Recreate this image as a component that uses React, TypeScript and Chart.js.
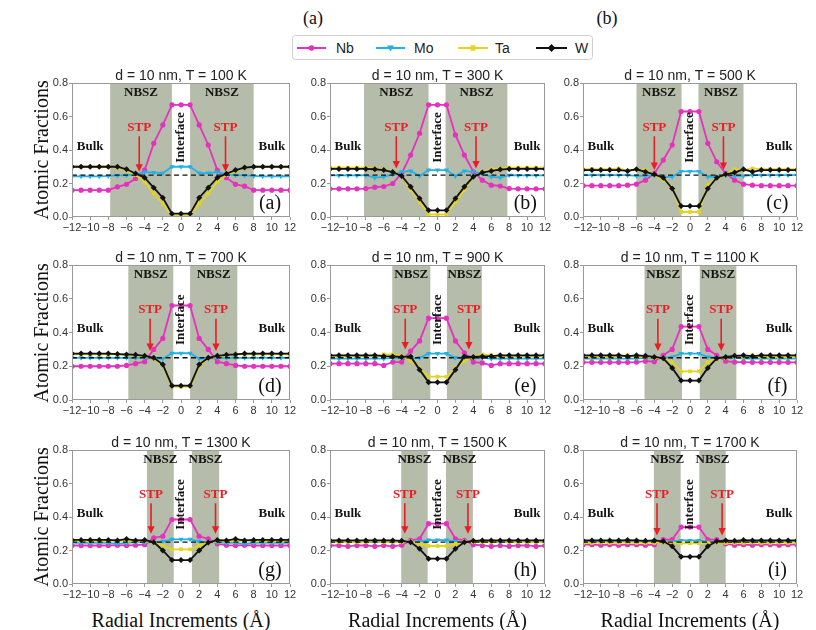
import React, { useEffect, useRef } from 'react';
import { Chart, registerables } from 'chart.js';

Chart.register(...registerables);

// ---------------- data ----------------
const radialX = [-12, -11, -10, -9, -8, -7, -6, -5, -4, -3, -2, -1, 0, 1, 2, 3, 4, 5, 6, 7, 8, 9, 10, 11, 12];
const xTickValues = [-12, -10, -8, -6, -4, -2, 0, 2, 4, 6, 8, 10, 12];
const yTickValues = [0, 0.2, 0.4, 0.6, 0.8];
const temperatures = [100, 300, 500, 700, 900, 1100, 1300, 1500, 1700];
const panelLetters = ['a', 'b', 'c', 'd', 'e', 'f', 'g', 'h', 'i'];
const seriesNames = ['Nb', 'Mo', 'Ta', 'W'];

const nbProfiles = [
  [0.16, 0.16, 0.16, 0.16, 0.16, 0.18, 0.195, 0.23, 0.28, 0.44, 0.55, 0.67, 0.67, 0.67, 0.55, 0.43, 0.28, 0.235, 0.195, 0.184, 0.16, 0.16, 0.16, 0.16, 0.16],
  [0.168, 0.168, 0.168, 0.168, 0.17, 0.178, 0.182, 0.2, 0.26, 0.37, 0.5, 0.67, 0.67, 0.67, 0.49, 0.37, 0.27, 0.22, 0.19, 0.185, 0.17, 0.168, 0.168, 0.168, 0.168],
  [0.187, 0.187, 0.187, 0.187, 0.187, 0.19, 0.196, 0.22, 0.26, 0.34, 0.43, 0.63, 0.63, 0.63, 0.44, 0.33, 0.26, 0.22, 0.196, 0.19, 0.187, 0.187, 0.187, 0.187, 0.187],
  [0.2, 0.2, 0.2, 0.2, 0.2, 0.2, 0.205, 0.215, 0.227, 0.3, 0.365, 0.56, 0.56, 0.56, 0.365, 0.3, 0.227, 0.215, 0.205, 0.2, 0.2, 0.2, 0.2, 0.2, 0.2],
  [0.215, 0.215, 0.215, 0.215, 0.215, 0.215, 0.205, 0.225, 0.225, 0.29, 0.35, 0.485, 0.485, 0.485, 0.35, 0.28, 0.225, 0.22, 0.205, 0.215, 0.215, 0.215, 0.215, 0.215, 0.215],
  [0.223, 0.223, 0.223, 0.223, 0.223, 0.223, 0.225, 0.23, 0.227, 0.265, 0.3, 0.435, 0.435, 0.435, 0.3, 0.265, 0.23, 0.225, 0.225, 0.223, 0.223, 0.223, 0.223, 0.223, 0.223],
  [0.23, 0.23, 0.23, 0.23, 0.23, 0.232, 0.23, 0.232, 0.235, 0.275, 0.285, 0.385, 0.385, 0.385, 0.285, 0.27, 0.24, 0.232, 0.23, 0.232, 0.23, 0.23, 0.23, 0.23, 0.23],
  [0.23, 0.23, 0.225, 0.23, 0.23, 0.225, 0.23, 0.225, 0.232, 0.26, 0.27, 0.36, 0.36, 0.36, 0.27, 0.26, 0.235, 0.23, 0.225, 0.23, 0.225, 0.23, 0.23, 0.225, 0.23],
  [0.235, 0.235, 0.232, 0.235, 0.232, 0.235, 0.235, 0.232, 0.235, 0.265, 0.265, 0.34, 0.34, 0.34, 0.265, 0.265, 0.24, 0.232, 0.235, 0.232, 0.235, 0.235, 0.232, 0.235, 0.235],
];

const moProfiles = [
  [0.243, 0.243, 0.243, 0.243, 0.245, 0.248, 0.25, 0.255, 0.268, 0.265, 0.262, 0.3, 0.3, 0.3, 0.262, 0.262, 0.268, 0.255, 0.25, 0.248, 0.245, 0.243, 0.243, 0.243, 0.243],
  [0.248, 0.248, 0.248, 0.248, 0.25, 0.235, 0.24, 0.255, 0.27, 0.275, 0.245, 0.28, 0.28, 0.28, 0.245, 0.275, 0.27, 0.26, 0.24, 0.235, 0.25, 0.248, 0.248, 0.248, 0.248],
  [0.25, 0.25, 0.25, 0.25, 0.25, 0.25, 0.245, 0.245, 0.25, 0.24, 0.24, 0.272, 0.272, 0.272, 0.24, 0.24, 0.25, 0.245, 0.245, 0.25, 0.25, 0.25, 0.25, 0.25, 0.25],
  [0.25, 0.25, 0.25, 0.25, 0.25, 0.25, 0.25, 0.25, 0.25, 0.245, 0.245, 0.277, 0.277, 0.277, 0.245, 0.245, 0.25, 0.25, 0.25, 0.25, 0.25, 0.25, 0.25, 0.25, 0.25],
  [0.245, 0.245, 0.245, 0.245, 0.245, 0.245, 0.245, 0.25, 0.25, 0.245, 0.25, 0.275, 0.275, 0.275, 0.25, 0.245, 0.25, 0.25, 0.245, 0.245, 0.245, 0.245, 0.245, 0.245, 0.245],
  [0.245, 0.245, 0.245, 0.245, 0.245, 0.245, 0.245, 0.25, 0.248, 0.25, 0.255, 0.275, 0.275, 0.275, 0.255, 0.25, 0.248, 0.25, 0.245, 0.245, 0.245, 0.245, 0.245, 0.245, 0.245],
  [0.245, 0.245, 0.245, 0.245, 0.245, 0.24, 0.245, 0.248, 0.248, 0.25, 0.255, 0.267, 0.267, 0.267, 0.255, 0.25, 0.248, 0.245, 0.245, 0.24, 0.245, 0.245, 0.245, 0.245, 0.245],
  [0.25, 0.25, 0.25, 0.25, 0.25, 0.25, 0.25, 0.25, 0.25, 0.25, 0.255, 0.262, 0.262, 0.262, 0.255, 0.25, 0.25, 0.25, 0.25, 0.25, 0.25, 0.25, 0.25, 0.25, 0.25],
  [0.25, 0.25, 0.25, 0.25, 0.25, 0.25, 0.25, 0.25, 0.25, 0.25, 0.252, 0.26, 0.26, 0.26, 0.252, 0.25, 0.25, 0.25, 0.25, 0.25, 0.25, 0.25, 0.25, 0.25, 0.25],
];

const taProfiles = [
  [0.3, 0.3, 0.3, 0.3, 0.3, 0.295, 0.275, 0.25, 0.21, 0.14, 0.08, 0.01, 0.01, 0.01, 0.08, 0.14, 0.21, 0.25, 0.275, 0.295, 0.3, 0.3, 0.3, 0.3, 0.3],
  [0.295, 0.295, 0.295, 0.295, 0.295, 0.29, 0.285, 0.27, 0.245, 0.16, 0.09, 0.015, 0.015, 0.015, 0.09, 0.16, 0.24, 0.27, 0.285, 0.29, 0.295, 0.295, 0.295, 0.295, 0.295],
  [0.285, 0.285, 0.285, 0.285, 0.29, 0.275, 0.285, 0.28, 0.255, 0.22, 0.18, 0.03, 0.03, 0.03, 0.19, 0.23, 0.255, 0.285, 0.28, 0.29, 0.285, 0.285, 0.285, 0.285, 0.285],
  [0.27, 0.27, 0.27, 0.27, 0.27, 0.27, 0.265, 0.265, 0.258, 0.245, 0.2, 0.08, 0.08, 0.08, 0.2, 0.245, 0.258, 0.265, 0.27, 0.27, 0.27, 0.27, 0.27, 0.27, 0.27],
  [0.26, 0.26, 0.26, 0.26, 0.26, 0.26, 0.27, 0.27, 0.262, 0.232, 0.19, 0.138, 0.138, 0.138, 0.19, 0.232, 0.255, 0.27, 0.265, 0.26, 0.26, 0.26, 0.26, 0.26, 0.26],
  [0.255, 0.255, 0.255, 0.255, 0.255, 0.265, 0.255, 0.255, 0.25, 0.245, 0.225, 0.17, 0.17, 0.17, 0.225, 0.245, 0.25, 0.255, 0.255, 0.265, 0.255, 0.255, 0.255, 0.255, 0.255],
  [0.255, 0.255, 0.255, 0.255, 0.255, 0.26, 0.255, 0.255, 0.255, 0.25, 0.23, 0.207, 0.207, 0.207, 0.23, 0.25, 0.255, 0.255, 0.255, 0.26, 0.255, 0.255, 0.255, 0.255, 0.255],
  [0.25, 0.25, 0.25, 0.25, 0.25, 0.255, 0.25, 0.25, 0.25, 0.255, 0.24, 0.227, 0.227, 0.227, 0.24, 0.255, 0.25, 0.25, 0.25, 0.255, 0.25, 0.25, 0.25, 0.25, 0.25],
  [0.245, 0.245, 0.248, 0.245, 0.245, 0.248, 0.245, 0.245, 0.245, 0.248, 0.245, 0.243, 0.243, 0.243, 0.245, 0.248, 0.245, 0.245, 0.245, 0.248, 0.245, 0.245, 0.248, 0.245, 0.245],
];

const wProfiles = [
  [0.3, 0.3, 0.3, 0.3, 0.3, 0.3, 0.285, 0.26, 0.235, 0.175, 0.115, 0.02, 0.02, 0.02, 0.115, 0.175, 0.235, 0.258, 0.28, 0.295, 0.3, 0.3, 0.3, 0.3, 0.3],
  [0.287, 0.287, 0.287, 0.287, 0.287, 0.285, 0.28, 0.268, 0.245, 0.18, 0.11, 0.04, 0.04, 0.04, 0.11, 0.18, 0.24, 0.265, 0.275, 0.283, 0.287, 0.287, 0.287, 0.287, 0.287],
  [0.28, 0.28, 0.28, 0.28, 0.28, 0.275, 0.285, 0.27, 0.255, 0.235, 0.17, 0.065, 0.065, 0.065, 0.17, 0.235, 0.255, 0.265, 0.285, 0.27, 0.28, 0.28, 0.28, 0.28, 0.28],
  [0.275, 0.275, 0.275, 0.275, 0.275, 0.272, 0.27, 0.268, 0.262, 0.25, 0.21, 0.085, 0.085, 0.085, 0.21, 0.25, 0.262, 0.268, 0.27, 0.275, 0.275, 0.275, 0.275, 0.275, 0.275],
  [0.265, 0.265, 0.265, 0.265, 0.265, 0.265, 0.26, 0.258, 0.255, 0.258, 0.18, 0.105, 0.105, 0.105, 0.18, 0.258, 0.255, 0.258, 0.26, 0.265, 0.265, 0.265, 0.265, 0.265, 0.265],
  [0.265, 0.265, 0.265, 0.265, 0.265, 0.26, 0.265, 0.262, 0.255, 0.247, 0.19, 0.115, 0.115, 0.115, 0.19, 0.247, 0.255, 0.262, 0.265, 0.26, 0.265, 0.265, 0.265, 0.265, 0.265],
  [0.263, 0.263, 0.263, 0.263, 0.263, 0.26, 0.268, 0.26, 0.262, 0.25, 0.2, 0.143, 0.143, 0.143, 0.2, 0.248, 0.262, 0.26, 0.268, 0.26, 0.263, 0.263, 0.263, 0.263, 0.263],
  [0.26, 0.26, 0.26, 0.26, 0.26, 0.26, 0.26, 0.26, 0.258, 0.25, 0.21, 0.151, 0.151, 0.151, 0.21, 0.25, 0.258, 0.26, 0.26, 0.26, 0.26, 0.26, 0.26, 0.26, 0.26],
  [0.26, 0.26, 0.26, 0.26, 0.26, 0.262, 0.26, 0.258, 0.26, 0.255, 0.225, 0.163, 0.163, 0.163, 0.225, 0.255, 0.26, 0.258, 0.262, 0.26, 0.26, 0.26, 0.26, 0.26, 0.26],
];

// shaded NBSZ zones and STP markers (radial positions)
const nbszLeft = [[-7.8, -1], [-8.2, -1], [-6, -0.95], [-5.8, -0.85], [-5.05, -0.8], [-5.1, -0.9], [-3.75, -0.8], [-4.05, -1.1], [-4.05, -1.05]];
const nbszRight = [[1, 8], [0.9, 7.8], [0.95, 6], [1, 6.2], [1.05, 4.95], [1.1, 5.2], [1.2, 4.2], [0.95, 3.95], [1.05, 4]];
const stpLeft = [-4.6, -4.6, -4, -3.4, -3.6, -3.6, -3.3, -3.65, -3.7];
const stpRight = [4.9, 4.3, 3.75, 3.85, 3.5, 3.5, 3.8, 3.4, 3.6];
const stpTip = [0.27, 0.29, 0.28, 0.29, 0.3, 0.29, 0.3, 0.3, 0.29];
const equalFraction = 0.25;

// ---------------- styling ----------------
const SERIF = '"Liberation Serif", "Times New Roman", serif';
const SANS = '"Liberation Sans", Arial, sans-serif';
const NB_COLOR = '#e431bf';
const MO_COLOR = '#22b0e6';
const TA_COLOR = '#e4d41c';
const W_COLOR = '#111111';
const SHADE = '#b6bcaa';
const FRAME = '#9a9a9a';
const RED = '#ec1c24';

const colLeft = [72, 330, 583];
const colRight = [290, 545, 797];
const rowTop = [83, 265, 450];
const rowBottom = [217, 400, 584];
const PT = 22, YW = 36, XH = 24, PR = 14;

function fmtX(v: any) {
  const n = Number(v);
  return n < 0 ? '\u2212' + Math.abs(n) : String(n);
}

function buildChart(canvas: HTMLCanvasElement, i: number) {
  const mk = (label: string, values: number[], color: string, style: string, order: number, rot: number, r: number) => ({
    label,
    data: radialX.map((x, k) => ({ x, y: values[k] })),
    borderColor: color,
    backgroundColor: color,
    pointBackgroundColor: color,
    pointBorderColor: color,
    pointBorderWidth: 0,
    pointStyle: style,
    pointRotation: rot,
    pointRadius: r,
    borderWidth: 1.8,
    tension: 0,
    order,
  });
  const datasets = [
    mk(seriesNames[0], nbProfiles[i], NB_COLOR, 'circle', 4, 0, 2.6),
    mk(seriesNames[1], moProfiles[i], MO_COLOR, 'triangle', 3, 180, 3),
    mk(seriesNames[2], taProfiles[i], TA_COLOR, 'rect', 2, 0, 2.6),
    mk(seriesNames[3], wProfiles[i], W_COLOR, 'rectRot', 1, 0, 3),
  ];

  const decor = {
    id: 'decor' + i,
    beforeDatasetsDraw(chart: any) {
      const { ctx, chartArea: a, scales } = chart;
      const x = scales.x;
      ctx.save();
      ctx.fillStyle = SHADE;
      for (const [x0, x1] of [nbszLeft[i], nbszRight[i]]) {
        const p0 = x.getPixelForValue(x0);
        const p1 = x.getPixelForValue(x1);
        ctx.fillRect(p0, a.top, p1 - p0, a.bottom - a.top);
      }
      ctx.restore();
    },
    afterDatasetsDraw(chart: any) {
      const { ctx, chartArea: a, scales } = chart;
      const x = scales.x, y = scales.y;
      ctx.save();
      // dashed equal-fraction line
      ctx.strokeStyle = '#111';
      ctx.lineWidth = 1.4;
      ctx.setLineDash([5, 3.5]);
      const yd = y.getPixelForValue(equalFraction);
      ctx.beginPath();
      ctx.moveTo(a.left, yd);
      ctx.lineTo(a.right, yd);
      ctx.stroke();
      ctx.setLineDash([]);

      ctx.textAlign = 'center';
      ctx.textBaseline = 'middle';
      // NBSZ labels
      ctx.fillStyle = '#151515';
      ctx.font = `bold 13px ${SERIF}`;
      for (const [x0, x1] of [nbszLeft[i], nbszRight[i]]) {
        ctx.fillText('NBSZ', x.getPixelForValue((x0 + x1) / 2), y.getPixelForValue(0.745));
      }
      // Bulk labels
      ctx.fillText('Bulk', x.getPixelForValue(-10), y.getPixelForValue(0.42));
      ctx.fillText('Bulk', x.getPixelForValue(10), y.getPixelForValue(0.42));
      // Interface (vertical)
      ctx.save();
      ctx.translate(x.getPixelForValue(0), y.getPixelForValue(0.475));
      ctx.rotate(-Math.PI / 2);
      ctx.fillText('Interface', 0, 0);
      ctx.restore();
      // STP with arrows
      for (const sx of [stpLeft[i], stpRight[i]]) {
        const px = x.getPixelForValue(sx);
        ctx.fillStyle = RED;
        ctx.font = `bold 13px ${SERIF}`;
        ctx.fillText('STP', px, y.getPixelForValue(0.535));
        const yTop = y.getPixelForValue(0.482);
        const yTip = y.getPixelForValue(stpTip[i]);
        ctx.strokeStyle = RED;
        ctx.lineWidth = 1.6;
        ctx.beginPath();
        ctx.moveTo(px, yTop);
        ctx.lineTo(px, yTip - 6);
        ctx.stroke();
        ctx.beginPath();
        ctx.moveTo(px - 3.6, yTip - 7.5);
        ctx.lineTo(px + 3.6, yTip - 7.5);
        ctx.lineTo(px, yTip);
        ctx.closePath();
        ctx.fill();
      }
      // panel letter
      ctx.fillStyle = '#111';
      ctx.font = `20px ${SERIF}`;
      ctx.fillText('(' + panelLetters[i] + ')', x.getPixelForValue(9.8), y.getPixelForValue(0.08));
      ctx.restore();
    },
    afterDraw(chart: any) {
      const { ctx, chartArea: a } = chart;
      ctx.save();
      ctx.strokeStyle = FRAME;
      ctx.lineWidth = 1;
      ctx.strokeRect(Math.round(a.left) + 0.5, Math.round(a.top) + 0.5, Math.round(a.right - a.left) - 1, Math.round(a.bottom - a.top) - 1);
      ctx.fillStyle = '#222';
      ctx.font = `14px ${SANS}`;
      ctx.textAlign = 'center';
      ctx.textBaseline = 'alphabetic';
      ctx.fillText(`d = 10 nm, T = ${temperatures[i]} K`, (a.left + a.right) / 2, a.top - 3);
      ctx.restore();
    },
  };

  const tickFont = { family: SANS, size: 11 };
  return new Chart(canvas, {
    type: 'line',
    data: { datasets } as any,
    options: {
      responsive: false,
      animation: false,
      devicePixelRatio: 1,
      layout: { padding: { left: 0, top: PT, right: PR, bottom: 0 } },
      plugins: { legend: { display: false }, tooltip: { enabled: false }, title: { display: false } },
      scales: {
        x: {
          type: 'linear',
          min: -12,
          max: 12,
          afterBuildTicks: (s: any) => { s.ticks = xTickValues.map((v) => ({ value: v })); },
          afterFit: (s: any) => { s.height = XH; },
          ticks: { autoSkip: false, maxRotation: 0, minRotation: 0, padding: 1, color: '#333', font: tickFont, callback: fmtX },
          grid: { drawOnChartArea: false, drawTicks: true, tickLength: 3, color: FRAME },
          border: { display: false },
        },
        y: {
          type: 'linear',
          min: 0,
          max: 0.8,
          afterBuildTicks: (s: any) => { s.ticks = yTickValues.map((v) => ({ value: v })); },
          afterFit: (s: any) => { s.width = YW; },
          ticks: { padding: 1, color: '#333', font: tickFont, callback: (v: any) => Number(v).toFixed(1) },
          grid: { drawOnChartArea: false, drawTicks: true, tickLength: 3, color: FRAME },
          border: { display: false },
        },
      },
    } as any,
    plugins: [decor],
  });
}

function Legend() {
  const cy = 13;
  const items = [
    { name: seriesNames[0], color: NB_COLOR, x0: 5, x1: 34, tx: 44, shape: 'circle' },
    { name: seriesNames[1], color: MO_COLOR, x0: 84, x1: 113, tx: 122, shape: 'tri' },
    { name: seriesNames[2], color: TA_COLOR, x0: 166, x1: 196, tx: 203, shape: 'rect' },
    { name: seriesNames[3], color: W_COLOR, x0: 244, x1: 275, tx: 283, shape: 'diamond' },
  ];
  return (
    <svg width={302} height={26} style={{ position: 'absolute', left: 292, top: 35 }}>
      <rect x={0.5} y={0.5} width={300} height={24} rx={3} fill="#fff" stroke="#cfcfcf" />
      {items.map((it) => {
        const cx = (it.x0 + it.x1) / 2;
        let marker: any = null;
        if (it.shape === 'circle') marker = <circle cx={cx} cy={cy} r={2.8} fill={it.color} />;
        else if (it.shape === 'tri') marker = <polygon points={`${cx - 3.5},${cy - 2.5} ${cx + 3.5},${cy - 2.5} ${cx},${cy + 3.5}`} fill={it.color} />;
        else if (it.shape === 'rect') marker = <rect x={cx - 2.6} y={cy - 2.6} width={5.2} height={5.2} fill={it.color} />;
        else marker = <polygon points={`${cx},${cy - 4} ${cx + 4},${cy} ${cx},${cy + 4} ${cx - 4},${cy}`} fill={it.color} />;
        return (
          <g key={it.name}>
            <line x1={it.x0} y1={cy} x2={it.x1} y2={cy} stroke={it.color} strokeWidth={2} />
            {marker}
            <text x={it.tx} y={cy + 5} fontFamily={SANS} fontSize={14} fill="#222">{it.name}</text>
          </g>
        );
      })}
    </svg>
  );
}

export default function App() {
  const refs = useRef<(HTMLCanvasElement | null)[]>([]);
  useEffect(() => {
    const charts = refs.current.map((c, i) => (c ? buildChart(c, i) : null));
    return () => charts.forEach((ch) => ch && ch.destroy());
  }, []);

  const canvases = panelLetters.map((_, i) => {
    const col = i % 3, row = Math.floor(i / 3);
    const left = colLeft[col] - YW;
    const top = rowTop[row] - PT;
    const width = colRight[col] - colLeft[col] + YW + PR;
    const height = PT + (rowBottom[row] - rowTop[row]) + XH;
    return (
      <canvas
        key={i}
        ref={(el) => { refs.current[i] = el; }}
        width={width}
        height={height}
        style={{ position: 'absolute', left, top, width, height }}
      />
    );
  });

  return (
    <div style={{ position: 'absolute', left: 0, top: 0, width: 816, height: 630, background: '#fff', overflow: 'hidden' }}>
      <div style={{ position: 'absolute', left: 313, top: 18, transform: 'translate(-50%,-50%)', font: `18px ${SERIF}`, lineHeight: '18px', color: '#111' }}>(a)</div>
      <div style={{ position: 'absolute', left: 607, top: 18, transform: 'translate(-50%,-50%)', font: `18px ${SERIF}`, lineHeight: '18px', color: '#111' }}>(b)</div>
      <Legend />
      {canvases}
      {rowTop.map((t, r) => (
        <div key={'yt' + r} style={{ position: 'absolute', left: 41, top: (t + rowBottom[r]) / 2, transform: 'translate(-50%,-50%) rotate(-90deg)', font: `20px ${SERIF}`, lineHeight: '20px', whiteSpace: 'nowrap', color: '#111' }}>
          Atomic Fractions
        </div>
      ))}
      {colLeft.map((l, c) => (
        <div key={'xt' + c} style={{ position: 'absolute', left: (l + colRight[c]) / 2, top: 610, transform: 'translateX(-50%)', font: `20px ${SERIF}`, lineHeight: '20px', whiteSpace: 'nowrap', color: '#111' }}>
          Radial Increments (Å)
        </div>
      ))}
    </div>
  );
}
